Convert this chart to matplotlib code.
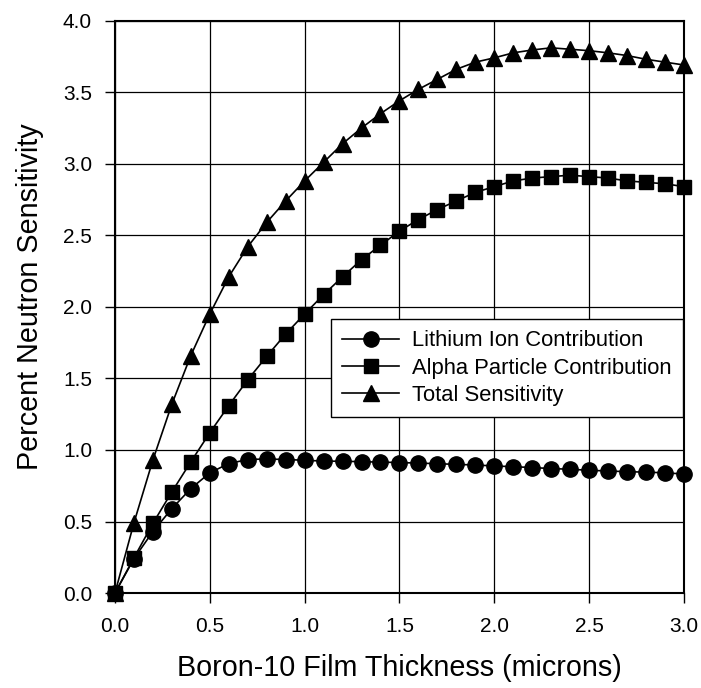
import matplotlib
matplotlib.use('Agg')
from matplotlib import pyplot as plt

plt.rcParams['font.family'] = ['Liberation Sans', 'DejaVu Sans']

thickness = [0.0, 0.1, 0.2, 0.3, 0.4, 0.5, 0.6, 0.7, 0.8, 0.9, 1.0,
             1.1, 1.2, 1.3, 1.4, 1.5, 1.6, 1.7, 1.8, 1.9, 2.0,
             2.1, 2.2, 2.3, 2.4, 2.5, 2.6, 2.7, 2.8, 2.9, 3.0]
lithium = [0.0, 0.24, 0.43, 0.59, 0.73, 0.84, 0.905, 0.933, 0.937, 0.933, 0.928,
           0.922, 0.921, 0.918, 0.915, 0.912, 0.908, 0.904, 0.899, 0.895, 0.888,
           0.883, 0.877, 0.870, 0.865, 0.858, 0.853, 0.848, 0.845, 0.840, 0.832]
alpha = [0.0, 0.246, 0.487, 0.707, 0.917, 1.12, 1.31, 1.49, 1.654, 1.81, 1.95,
         2.085, 2.21, 2.33, 2.43, 2.53, 2.61, 2.68, 2.74, 2.80, 2.84,
         2.88, 2.90, 2.91, 2.92, 2.91, 2.90, 2.88, 2.87, 2.86, 2.84]
total = [0.0, 0.49, 0.93, 1.32, 1.66, 1.95, 2.21, 2.42, 2.59, 2.74, 2.88,
         3.01, 3.14, 3.25, 3.35, 3.44, 3.52, 3.59, 3.66, 3.71, 3.74,
         3.775, 3.795, 3.81, 3.80, 3.79, 3.775, 3.756, 3.73, 3.71, 3.69]
labels = ['Lithium Ion Contribution', 'Alpha Particle Contribution', 'Total Sensitivity']

fig = plt.figure(figsize=(7.01, 6.88), dpi=100)
ax = fig.add_axes([0.164, 0.138, 0.8117, 0.832])

ax.plot(thickness, lithium, color='black', lw=1.2, marker='o', ms=11,
        label=labels[0], clip_on=False, zorder=3)
ax.plot(thickness, alpha, color='black', lw=1.2, marker='s', ms=10,
        label=labels[1], clip_on=False, zorder=3)
ax.plot(thickness, total, color='black', lw=1.2, marker='^', ms=11.5,
        label=labels[2], clip_on=False, zorder=3)

ax.set_xlim(0, 3.0)
ax.set_ylim(0, 4.0)
ax.set_xticks([0.0, 0.5, 1.0, 1.5, 2.0, 2.5, 3.0])
ax.set_yticks([0.0, 0.5, 1.0, 1.5, 2.0, 2.5, 3.0, 3.5, 4.0])
ax.set_xticklabels([f'{v:.1f}' for v in ax.get_xticks()])
ax.set_yticklabels([f'{v:.1f}' for v in ax.get_yticks()])
ax.tick_params(direction='out', length=7.5, width=1, labelsize=15, colors='black')
ax.tick_params(axis='x', pad=10)
ax.tick_params(axis='y', pad=9)
ax.grid(True, color='black', lw=0.9)
ax.set_axisbelow(True)
for s in ax.spines.values():
    s.set_linewidth(1.5)

ax.set_xlabel('Boron-10 Film Thickness (microns)', fontsize=20.7, labelpad=13)
ax.set_ylabel('Percent Neutron Sensitivity', fontsize=20.7)
ax.yaxis.set_label_coords(-0.125, 0.517)

leg = ax.legend(loc='upper right', bbox_to_anchor=(0.998, 0.478), fontsize=15.8,
                frameon=True, fancybox=False, framealpha=1, edgecolor='black',
                handlelength=2.6, handletextpad=0.6, labelspacing=0.28,
                borderpad=0.5, borderaxespad=0)
leg.get_frame().set_linewidth(1.0)

fig.savefig('out.png', dpi=100)
